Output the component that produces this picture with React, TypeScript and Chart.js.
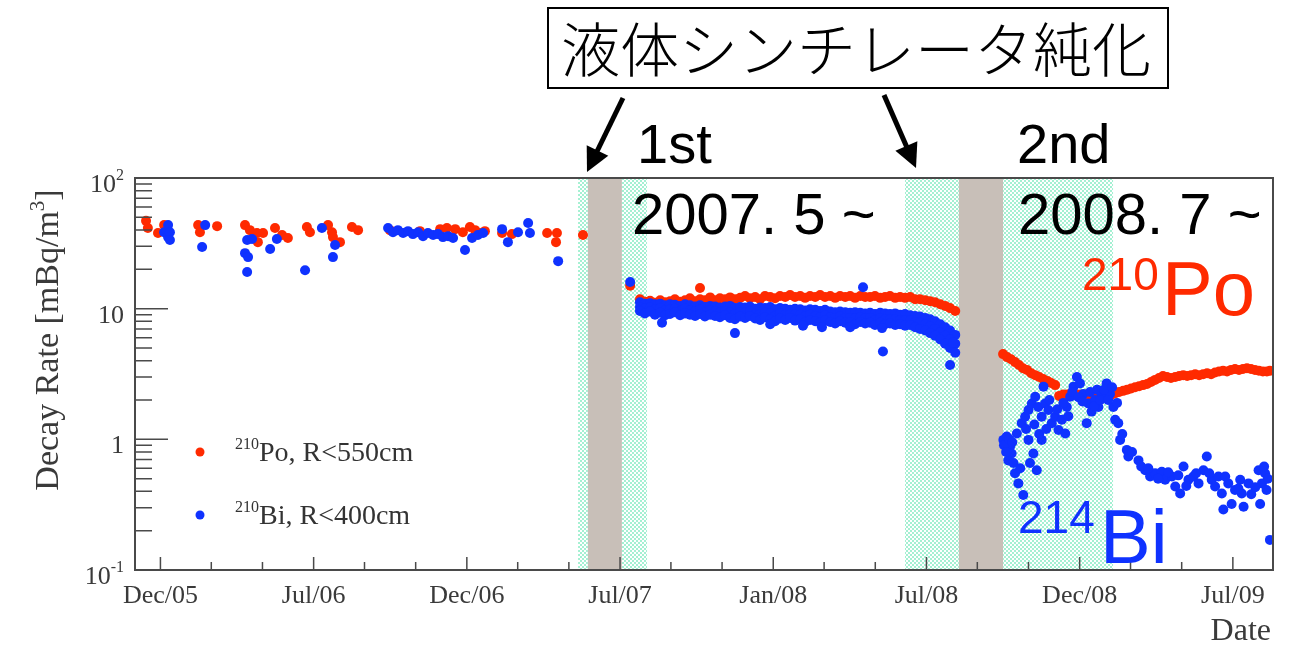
import React, { useEffect, useRef } from 'react';
import { Chart, registerables } from 'chart.js';

Chart.register(...registerables);

// ---------- axis range (decimal years) ----------
const xMinYear = 2005.834;
const xMaxYear = 2009.548;
const yMinRate = 0.1;
const yMaxRate = 100;

// ---------- tick positions / labels ----------
const majorTickDates = [2005.917, 2006.417, 2006.917, 2007.417, 2007.917, 2008.417, 2008.917, 2009.417];
const majorTickLabels = ['Dec/05', 'Jul/06', 'Dec/06', 'Jul/07', 'Jan/08', 'Jul/08', 'Dec/08', 'Jul/09'];
const minorTickDates = [2006.083, 2006.25, 2006.583, 2006.75, 2007.083, 2007.25, 2007.583, 2007.75, 2008.083, 2008.25, 2008.583, 2008.75, 2009.083, 2009.25];
const yMajorTicks = [0.1, 1, 10, 100];
const yMajorLabelBase = ['10', '1', '10', '10'];
const yMajorLabelSup = ['-1', '', '', '2'];
const yMinorMultipliers = [2, 3, 4, 5, 6, 7, 8, 9];

// ---------- purification periods ----------
const hatchStarts = [2007.280, 2007.423, 2008.347, 2008.667];
const hatchEnds = [2007.312, 2007.505, 2008.523, 2009.026];
const grayStarts = [2007.312, 2008.523];
const grayEnds = [2007.423, 2008.667];

// ---------- early period (before 1st purification) ----------
const earlyRedDates = [2005.870, 2005.876, 2005.909, 2005.929, 2006.040, 2006.046, 2006.102, 2006.193, 2006.209, 2006.232, 2006.235, 2006.252, 2006.291, 2006.314, 2006.333, 2006.395, 2006.405, 2006.464, 2006.477, 2006.480, 2006.503, 2006.542, 2006.562, 2006.666, 2006.764, 2006.830, 2006.852, 2006.879, 2006.904, 2006.927, 2006.944, 2006.960, 2006.976, 2007.032, 2007.064, 2007.179, 2007.208, 2007.211, 2007.296];
const earlyRedValues = [47.0, 41.4, 37.9, 43.6, 43.6, 38.5, 42.8, 43.6, 39.9, 37.9, 32.3, 37.9, 41.4, 36.6, 34.7, 42.2, 38.5, 43.6, 38.5, 35.3, 32.3, 42.2, 39.9, 39.9, 39.2, 40.6, 41.4, 40.6, 38.5, 42.2, 39.9, 37.9, 39.2, 37.9, 37.2, 37.9, 32.3, 37.9, 36.6];
const earlyBlueDates = [2005.929, 2005.942, 2005.942, 2005.948, 2005.948, 2006.053, 2006.063, 2006.193, 2006.200, 2006.200, 2006.203, 2006.216, 2006.275, 2006.297, 2006.389, 2006.444, 2006.480, 2006.487, 2006.660, 2006.676, 2006.692, 2006.709, 2006.725, 2006.741, 2006.758, 2006.774, 2006.790, 2006.807, 2006.823, 2006.839, 2006.856, 2006.872, 2006.911, 2006.934, 2006.953, 2006.970, 2007.032, 2007.051, 2007.084, 2007.117, 2007.123, 2007.215];
const earlyBlueValues = [38.5, 43.6, 35.3, 38.5, 33.5, 29.6, 43.6, 26.6, 33.5, 19.1, 24.8, 34.1, 28.6, 34.1, 19.7, 41.4, 24.8, 30.7, 41.4, 38.5, 39.9, 37.9, 39.2, 37.2, 38.5, 35.9, 37.9, 36.6, 37.2, 35.3, 35.9, 34.7, 28.1, 34.7, 36.6, 37.9, 40.6, 32.3, 38.5, 45.2, 37.9, 23.1];

// ---------- between 1st and 2nd purification ----------
const run1Dates = [2007.482, 2007.498, 2007.515, 2007.531, 2007.548, 2007.564, 2007.580, 2007.596, 2007.613, 2007.629, 2007.645, 2007.662, 2007.678, 2007.694, 2007.711, 2007.727, 2007.743, 2007.760, 2007.776, 2007.792, 2007.809, 2007.825, 2007.841, 2007.858, 2007.874, 2007.890, 2007.907, 2007.923, 2007.939, 2007.956, 2007.972, 2007.988, 2008.005, 2008.021, 2008.037, 2008.054, 2008.070, 2008.086, 2008.103, 2008.119, 2008.135, 2008.152, 2008.168, 2008.184, 2008.201, 2008.217, 2008.233, 2008.249, 2008.266, 2008.282, 2008.298, 2008.315, 2008.331, 2008.347, 2008.364, 2008.380, 2008.396, 2008.413, 2008.429, 2008.445, 2008.462, 2008.478, 2008.494, 2008.511];
const run1Red = [11.8, 11.3, 11.5, 11.1, 11.6, 11.2, 11.4, 11.8, 11.3, 11.6, 12.0, 11.4, 11.8, 11.6, 12.2, 11.6, 12.0, 11.8, 12.2, 11.8, 12.1, 12.5, 12.0, 12.3, 11.8, 12.5, 12.3, 12.0, 12.5, 12.3, 12.7, 12.3, 12.5, 12.1, 12.5, 12.3, 12.7, 12.3, 12.5, 12.1, 12.5, 12.3, 12.5, 12.1, 12.5, 12.3, 12.3, 12.5, 12.1, 12.3, 12.5, 12.1, 12.3, 12.1, 12.3, 11.8, 11.8, 11.6, 11.4, 11.2, 10.8, 10.5, 10.1, 9.6];
const run1BlueUpper = [11.2, 10.9, 11.0, 10.8, 10.9, 10.6, 10.8, 10.7, 10.5, 10.8, 10.6, 10.4, 10.6, 10.3, 10.5, 10.4, 10.2, 10.4, 10.5, 10.1, 10.3, 10.2, 10.4, 10.0, 10.2, 10.1, 10.3, 9.9, 10.1, 10.0, 9.8, 10.0, 9.9, 9.7, 9.9, 9.8, 9.6, 9.8, 9.5, 9.4, 9.5, 9.4, 9.3, 9.4, 9.3, 9.2, 9.3, 9.1, 9.3, 9.2, 9.1, 9.2, 9.0, 9.1, 8.9, 8.8, 8.7, 8.5, 8.3, 8.0, 7.6, 7.2, 6.8, 6.3];
const run1BlueMiddle = [10.3, 10.0, 10.2, 9.9, 10.1, 9.7, 9.9, 10.0, 9.6, 10.0, 9.7, 9.5, 9.8, 9.4, 9.7, 9.5, 9.3, 9.6, 9.4, 9.1, 9.4, 9.3, 9.5, 9.1, 9.1, 9.3, 9.2, 8.8, 9.2, 9.0, 9.1, 9.0, 9.0, 8.7, 9.0, 8.8, 8.6, 8.9, 8.6, 8.5, 8.7, 8.5, 8.5, 8.4, 8.6, 8.4, 8.5, 8.2, 8.5, 8.3, 8.3, 8.3, 8.2, 8.2, 8.1, 7.9, 7.8, 7.6, 7.3, 7.0, 6.6, 6.2, 5.8, 5.4];
const run1BlueLower = [9.6, 9.2, 9.5, 9.0, 9.3, 8.9, 9.1, 9.4, 8.9, 9.2, 9.0, 8.8, 9.1, 8.7, 9.0, 8.8, 8.6, 8.9, 8.5, 8.3, 8.7, 8.5, 8.8, 8.4, 8.2, 8.6, 8.3, 8.0, 8.4, 8.2, 8.5, 8.1, 8.3, 7.9, 8.2, 8.0, 7.8, 8.1, 7.9, 7.7, 8.0, 7.8, 7.9, 7.6, 7.9, 7.7, 7.8, 7.5, 7.8, 7.6, 7.7, 7.5, 7.6, 7.4, 7.5, 7.2, 7.0, 6.8, 6.5, 6.2, 5.8, 5.4, 5.0, 4.6];
const run1ExtraRedDates = [2007.450, 2007.678];
const run1ExtraRedValues = [15.0, 14.4];
const run1ExtraBlueDates = [2007.450, 2007.554, 2007.792, 2008.210, 2008.275, 2008.494, 2008.504, 2007.907, 2008.014, 2008.076, 2008.168, 2008.272];
const run1ExtraBlueValues = [16.0, 7.8, 6.5, 14.6, 4.7, 3.7, 5.5, 7.6, 7.4, 7.2, 7.2, 7.1];

// ---------- after 2nd purification ----------
const run2RedDates = [2008.667, 2008.680, 2008.693, 2008.706, 2008.719, 2008.732, 2008.745, 2008.759, 2008.772, 2008.785, 2008.798, 2008.811, 2008.824, 2008.837, 2008.850, 2008.863, 2008.876, 2008.889, 2008.902, 2008.915, 2008.928, 2008.941, 2008.954, 2008.968, 2008.981, 2008.994, 2009.007, 2009.020, 2009.033, 2009.046, 2009.059, 2009.072, 2009.085, 2009.098, 2009.111, 2009.124, 2009.137, 2009.150, 2009.163, 2009.176, 2009.189, 2009.202, 2009.215, 2009.229, 2009.242, 2009.255, 2009.268, 2009.281, 2009.294, 2009.307, 2009.320, 2009.333, 2009.346, 2009.359, 2009.372, 2009.385, 2009.398, 2009.411, 2009.424, 2009.437, 2009.450, 2009.463, 2009.476, 2009.489, 2009.502, 2009.515, 2009.528, 2009.538];
const run2RedValues = [4.49, 4.26, 4.1, 3.9, 3.7, 3.5, 3.4, 3.2, 3.1, 3.0, 2.9, 2.8, 2.7, 2.6, 2.15, 2.2, 2.2, 2.25, 2.2, 2.2, 2.15, 2.2, 2.15, 2.2, 2.15, 2.2, 2.15, 2.2, 2.25, 2.3, 2.35, 2.4, 2.45, 2.5, 2.55, 2.6, 2.65, 2.75, 2.85, 2.95, 3.05, 3.0, 2.95, 3.0, 3.05, 3.1, 3.05, 3.1, 3.15, 3.1, 3.15, 3.2, 3.15, 3.25, 3.3, 3.35, 3.3, 3.4, 3.45, 3.4, 3.45, 3.5, 3.45, 3.4, 3.35, 3.3, 3.3, 3.35];
const run2BlueDates = [2008.668, 2008.679, 2008.690, 2008.695, 2008.684, 2008.701, 2008.706, 2008.717, 2008.733, 2008.712, 2008.728, 2008.739, 2008.750, 2008.761, 2008.772, 2008.782, 2008.793, 2008.804, 2008.799, 2008.815, 2008.826, 2008.750, 2008.766, 2008.777, 2008.755, 2008.793, 2008.837, 2008.848, 2008.859, 2008.870, 2008.875, 2008.886, 2008.897, 2008.908, 2008.918, 2008.929, 2008.940, 2008.945, 2008.956, 2008.967, 2008.978, 2008.989, 2009.005, 2009.016, 2009.027, 2009.033, 2009.043, 2009.049, 2009.071, 2009.076, 2009.109, 2009.131, 2009.147, 2009.163, 2009.185, 2009.196, 2009.218, 2009.229, 2009.245, 2009.256, 2009.272, 2009.288, 2009.305, 2009.321, 2009.332, 2009.348, 2009.359, 2009.370, 2009.381, 2009.386, 2009.402, 2009.413, 2009.424, 2009.441, 2009.446, 2009.452, 2009.468, 2009.501, 2009.512, 2009.506, 2009.522, 2009.527, 2009.538, 2009.519, 2009.531];
const run2BlueValues = [0.99, 1.05, 0.88, 0.78, 0.69, 0.66, 0.55, 0.46, 0.375, 1.11, 1.33, 1.49, 1.675, 1.88, 2.12, 1.77, 1.49, 1.88, 2.53, 1.675, 1.33, 0.99, 0.78, 0.58, 0.66, 0.99, 1.49, 1.18, 1.41, 1.11, 1.77, 2.12, 2.53, 3.0, 2.68, 2.22, 1.33, 1.88, 1.63, 2.0, 1.77, 2.22, 2.68, 2.22, 1.77, 1.41, 1.33, 0.99, 0.83, 0.74, 0.69, 0.58, 0.52, 0.55, 0.565, 0.49, 0.52, 0.435, 0.385, 0.62, 0.49, 0.52, 0.46, 0.58, 0.74, 0.49, 0.435, 0.52, 0.385, 0.29, 0.46, 0.32, 0.41, 0.49, 0.385, 0.305, 0.46, 0.58, 0.46, 0.32, 0.55, 0.41, 0.17, 0.62, 0.5];
const run2BlueMoreDates = [2008.670, 2008.677, 2008.687, 2008.697, 2008.723, 2008.742, 2008.769, 2008.785, 2008.808, 2008.818, 2008.844, 2008.864, 2008.880, 2008.893, 2008.913, 2008.926, 2008.951, 2008.964, 2008.974, 2008.984, 2008.997, 2009.010, 2009.023, 2009.039, 2009.056, 2009.088, 2009.118, 2009.141, 2009.173, 2009.206, 2009.239, 2009.265, 2009.297, 2009.340, 2009.392, 2009.435, 2009.477, 2009.490];
const run2BlueMoreValues = [0.9, 0.8, 1.0, 0.95, 0.6, 1.2, 1.3, 1.1, 1.2, 2.0, 1.7, 1.9, 1.5, 2.3, 2.1, 1.95, 2.3, 1.8, 2.4, 2.0, 2.4, 2.0, 2.5, 1.9, 1.1, 0.8, 0.62, 0.6, 0.5, 0.56, 0.53, 0.44, 0.55, 0.55, 0.52, 0.42, 0.38, 0.43];

// ---------- texts ----------
const yTitleMain = 'Decay Rate [mBq/m';
const yTitleSup = '3';
const yTitleEnd = ']';
const xTitle = 'Date';
const legendSup = ['210', '210'];
const legendTexts = ['Po, R<550cm', 'Bi, R<400cm'];
const boxTitle = '液体シンチレータ純化';
const periodLabels = ['1st', '2nd'];
const periodDates = ['2007. 5 ~', '2008. 7 ~'];
const isotopeSup = ['210', '214'];
const isotopeNames = ['Po', 'Bi'];

const RED = '#ff2a00';
const BLUE = '#0f32ff';
const AXIS = '#4a4a4a';
const SERIF = '"Liberation Serif", "DejaVu Serif", serif';
const SANS = '"Liberation Sans", Arial, sans-serif';

const zip = (xs: number[], ys: number[]) => xs.map((x, i) => ({ x, y: ys[i] }));

function supText(ctx: CanvasRenderingContext2D, base: string, sup: string, x: number, y: number, baseFont: string, supFont: string, rise: number) {
  ctx.font = baseFont;
  ctx.fillText(base, x, y);
  const w = ctx.measureText(base).width;
  if (sup) {
    ctx.font = supFont;
    ctx.fillText(sup, x + w, y - rise);
    return w + ctx.measureText(sup).width;
  }
  return w;
}

const decorPlugin = {
  id: 'decor',
  beforeDatasetsDraw(chart: any) {
    const { ctx, chartArea: a, scales } = chart;
    const xs = scales.x;
    ctx.save();
    const pc = document.createElement('canvas');
    pc.width = 4;
    pc.height = 4;
    const p = pc.getContext('2d')!;
    p.fillStyle = '#ffffff';
    p.fillRect(0, 0, 4, 4);
    p.fillStyle = '#a4f0d2';
    p.fillRect(0, 0, 2, 2);
    p.fillRect(2, 2, 2, 2);
    ctx.fillStyle = ctx.createPattern(pc, 'repeat');
    hatchStarts.forEach((s, i) => {
      const x0 = xs.getPixelForValue(s);
      const x1 = xs.getPixelForValue(hatchEnds[i]);
      ctx.fillRect(x0, a.top, x1 - x0, a.bottom - a.top);
    });
    ctx.fillStyle = '#c8bfb8';
    grayStarts.forEach((s, i) => {
      const x0 = xs.getPixelForValue(s);
      const x1 = xs.getPixelForValue(grayEnds[i]);
      ctx.fillRect(x0, a.top, x1 - x0, a.bottom - a.top);
    });
    ctx.restore();
  },
  afterDatasetsDraw(chart: any) {
    const { ctx, chartArea: a, scales } = chart;
    const xs = scales.x;
    const ys = scales.y;
    ctx.save();
    // frame
    ctx.strokeStyle = AXIS;
    ctx.lineWidth = 2;
    ctx.strokeRect(a.left, a.top, a.right - a.left, a.bottom - a.top);
    // ticks
    ctx.lineWidth = 1.5;
    ctx.beginPath();
    yMajorTicks.forEach((v, i) => {
      const y = ys.getPixelForValue(v);
      ctx.moveTo(a.left, y);
      ctx.lineTo(a.left + 33, y);
      if (i < yMajorTicks.length - 1) {
        yMinorMultipliers.forEach((m) => {
          const yy = ys.getPixelForValue(v * m);
          ctx.moveTo(a.left, yy);
          ctx.lineTo(a.left + 17, yy);
        });
      }
    });
    majorTickDates.forEach((d) => {
      const x = xs.getPixelForValue(d);
      ctx.moveTo(x, a.bottom);
      ctx.lineTo(x, a.bottom - 13);
    });
    minorTickDates.forEach((d) => {
      const x = xs.getPixelForValue(d);
      ctx.moveTo(x, a.bottom);
      ctx.lineTo(x, a.bottom - 8);
    });
    ctx.stroke();

    // y tick labels
    ctx.fillStyle = '#3a3a3a';
    ctx.textBaseline = 'alphabetic';
    ctx.textAlign = 'left';
    const bf = `26px ${SERIF}`;
    const sf = `16px ${SERIF}`;
    yMajorTicks.forEach((v, i) => {
      const y = ys.getPixelForValue(v) + 14;
      ctx.font = bf;
      const bw = ctx.measureText(yMajorLabelBase[i]).width;
      ctx.font = sf;
      const sw = yMajorLabelSup[i] ? ctx.measureText(yMajorLabelSup[i]).width : 0;
      supText(ctx, yMajorLabelBase[i], yMajorLabelSup[i], a.left - 11 - bw - sw, y, bf, sf, 12);
    });
    // x tick labels
    ctx.font = bf;
    ctx.textAlign = 'center';
    majorTickDates.forEach((d, i) => {
      ctx.fillText(majorTickLabels[i], xs.getPixelForValue(d), a.bottom + 33);
    });
    // x title
    ctx.font = `32px ${SERIF}`;
    ctx.textAlign = 'right';
    ctx.fillText(xTitle, a.right - 2, 640);
    // y title
    ctx.save();
    ctx.translate(58, 340);
    ctx.rotate(-Math.PI / 2);
    ctx.textAlign = 'left';
    const tf = `34px ${SERIF}`;
    const tsf = `21px ${SERIF}`;
    ctx.font = tf;
    const w1 = ctx.measureText(yTitleMain).width;
    const w3 = ctx.measureText(yTitleEnd).width;
    ctx.font = tsf;
    const w2 = ctx.measureText(yTitleSup).width;
    const total = w1 + w2 + w3;
    const x0 = -total / 2;
    ctx.font = tf;
    ctx.fillText(yTitleMain, x0, 0);
    ctx.font = tsf;
    ctx.fillText(yTitleSup, x0 + w1, -14);
    ctx.font = tf;
    ctx.fillText(yTitleEnd, x0 + w1 + w2, 0);
    ctx.restore();

    // legend
    const legendColors = [RED, BLUE];
    const legendY = [452, 515];
    legendColors.forEach((c, i) => {
      ctx.fillStyle = c;
      ctx.beginPath();
      ctx.arc(200, legendY[i], 4.5, 0, Math.PI * 2);
      ctx.fill();
      ctx.fillStyle = '#333333';
      ctx.textAlign = 'left';
      ctx.font = `16px ${SERIF}`;
      ctx.fillText(legendSup[i], 235, legendY[i] - 3);
      const sw = ctx.measureText(legendSup[i]).width;
      ctx.font = `28px ${SERIF}`;
      ctx.fillText(legendTexts[i], 235 + sw, legendY[i] + 9);
    });

    // annotation box
    ctx.strokeStyle = '#000000';
    ctx.lineWidth = 2;
    ctx.strokeRect(548, 8, 620, 80);
    ctx.fillStyle = '#000000';
    ctx.font = `300 59px "Noto Sans CJK JP", sans-serif`;
    ctx.textAlign = 'center';
    ctx.textBaseline = 'middle';
    ctx.fillText(boxTitle, 856, 50);

    // arrows
    const arrow = (xa: number, ya: number, xb: number, yb: number) => {
      const dx = xb - xa;
      const dy = yb - ya;
      const len = Math.hypot(dx, dy);
      const ux = dx / len;
      const uy = dy / len;
      const hl = 24;
      const hw = 12;
      ctx.lineWidth = 5;
      ctx.beginPath();
      ctx.moveTo(xa, ya);
      ctx.lineTo(xb - ux * hl * 0.8, yb - uy * hl * 0.8);
      ctx.stroke();
      ctx.beginPath();
      ctx.moveTo(xb, yb);
      ctx.lineTo(xb - ux * hl - uy * hw, yb - uy * hl + ux * hw);
      ctx.lineTo(xb - ux * hl + uy * hw, yb - uy * hl - ux * hw);
      ctx.closePath();
      ctx.fill();
    };
    arrow(623, 98, 587, 172);
    arrow(884, 95, 916, 168);

    ctx.textAlign = 'left';
    ctx.textBaseline = 'alphabetic';
    ctx.font = `56px ${SANS}`;
    ctx.fillText(periodLabels[0], 637, 163);
    ctx.fillText(periodLabels[1], 1017, 163);
    ctx.font = `58px ${SANS}`;
    ctx.fillText(periodDates[0], 632, 234);
    ctx.fillText(periodDates[1], 1018, 234);

    // isotope labels
    ctx.fillStyle = RED;
    ctx.font = `46px ${SANS}`;
    ctx.fillText(isotopeSup[0], 1082, 290);
    ctx.font = `76px ${SANS}`;
    ctx.fillText(isotopeNames[0], 1162, 315);
    ctx.fillStyle = BLUE;
    ctx.font = `46px ${SANS}`;
    ctx.fillText(isotopeSup[1], 1018, 533);
    ctx.font = `76px ${SANS}`;
    ctx.fillText(isotopeNames[1], 1100, 563);
    ctx.restore();
  },
};

export default function App() {
  const ref = useRef<HTMLCanvasElement>(null);
  useEffect(() => {
    const bluePoints = [
      ...zip(earlyBlueDates, earlyBlueValues),
      ...zip(run1Dates, run1BlueUpper),
      ...zip(run1Dates, run1BlueMiddle),
      ...zip(run1Dates, run1BlueLower),
      ...zip(run1ExtraBlueDates, run1ExtraBlueValues),
      ...zip(run2BlueDates, run2BlueValues),
      ...zip(run2BlueMoreDates, run2BlueMoreValues),
    ];
    const redPoints = [
      ...zip(earlyRedDates, earlyRedValues),
      ...zip(run1Dates, run1Red),
      ...zip(run1ExtraRedDates, run1ExtraRedValues),
      ...zip(run2RedDates, run2RedValues),
    ];
    const chart = new Chart(ref.current!, {
      type: 'scatter',
      data: {
        datasets: [
          { label: '210Bi, R<400cm', data: bluePoints, pointBackgroundColor: BLUE, pointBorderColor: BLUE, pointBorderWidth: 0, pointRadius: 5 },
          { label: '210Po, R<550cm', data: redPoints, pointBackgroundColor: RED, pointBorderColor: RED, pointBorderWidth: 0, pointRadius: 5 },
        ],
      },
      options: {
        responsive: false,
        animation: false,
        events: [],
        layout: { padding: { left: 135, top: 178, right: 21, bottom: 75 } },
        scales: {
          x: { type: 'linear', min: xMinYear, max: xMaxYear, display: false },
          y: { type: 'logarithmic', min: yMinRate, max: yMaxRate, display: false },
        },
        plugins: { legend: { display: false }, tooltip: { enabled: false } },
      },
      plugins: [decorPlugin],
    } as any);
    return () => chart.destroy();
  }, []);
  return (
    <div style={{ position: 'absolute', left: 0, top: 0, width: 1294, height: 645, background: '#ffffff' }}>
      <canvas ref={ref} width={1294} height={645} style={{ display: 'block', width: 1294, height: 645 }} />
    </div>
  );
}
